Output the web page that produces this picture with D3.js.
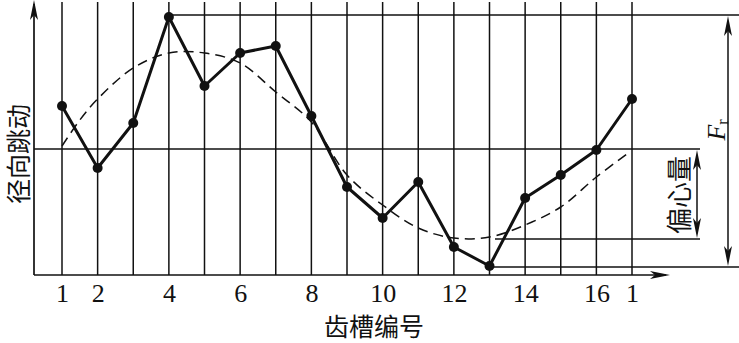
<!DOCTYPE html>
<html lang="zh">
<head>
  <meta charset="utf-8">
  <title>径向跳动</title>
  <script src="https://d3js.org/d3.v7.min.js"></script>
  <style>
    body { margin: 0; background: #fff; }
    svg { display: block; }
    .cjk { font-family: "Noto Sans CJK SC", sans-serif; }
    .num { font-family: "Liberation Serif", "DejaVu Serif", serif; }
  </style>
</head>
<body>
<div id="chart"></div>
<script>
  // tooth slot numbers (17 = back to slot 1)
  var teeth = [1, 2, 3, 4, 5, 6, 7, 8, 9, 10, 11, 12, 13, 14, 15, 16, 17];
  // measured radial runout at each slot
  var runout = [169, 107, 152, 258, 189, 222, 229, 159, 88, 57, 93, 28, 9, 77, 100, 125, 176];
  // fitted eccentricity curve (dashed), sampled
  var fitX = [1, 1.5, 2, 3, 4, 5, 6, 7, 8, 9, 10, 11, 12, 13, 14, 15, 16, 16.9];
  var fitY = [129, 155, 176, 207, 222, 222, 212, 183, 153, 100, 70, 47, 37, 38, 50, 68, 98, 122];
  var tickVals = [1, 2, 4, 6, 8, 10, 12, 14, 16, 17];
  var tickText = ["1", "2", "4", "6", "8", "10", "12", "14", "16", "1"];
  // reference levels
  var levelCenter = 126, levelMax = 260, levelMin = 8, levelFitMin = 36;

  var W = 739, H = 343;
  var svg = d3.select("#chart").append("svg").attr("width", W).attr("height", H);

  var x = d3.scaleLinear().domain([1, 17]).range([62, 632]);
  var y = d3.scaleLinear().domain([0, 260]).range([275, 15]);
  var x0 = 34, y0 = y(0);

  // arrow head helper: tip at (tx,ty), pointing along angle (degrees)
  function arrowHead(tx, ty, angle) {
    svg.append("path")
      .attr("d", "M0,0 L-20,-4 L-15,0 L-20,4 Z")
      .attr("fill", "#111")
      .attr("transform", "translate(" + tx + "," + ty + ") rotate(" + angle + ")");
  }
  function hline(x1, x2, yy, w) {
    svg.append("line").attr("x1", x1).attr("x2", x2).attr("y1", yy).attr("y2", yy)
      .attr("stroke", "#111").attr("stroke-width", w || 1.5);
  }
  function vline(xx, y1, y2, w) {
    svg.append("line").attr("x1", xx).attr("x2", xx).attr("y1", y1).attr("y2", y2)
      .attr("stroke", "#111").attr("stroke-width", w || 1.5);
  }

  // vertical slot lines
  teeth.forEach(function (t) { vline(x(t), 2, y0); });

  // reference horizontal lines
  hline(x0, 700, y(levelCenter));
  hline(x(4), 739, y(levelMax));
  hline(x(13), 739, y(levelMin));
  hline(495, 700, y(levelFitMin));

  // axes
  vline(x0, 4, y0, 1.7);
  arrowHead(x0, 0, -90);
  hline(x0, 666, y0, 1.7);
  arrowHead(670, y0, 0);

  // tick labels via d3 axis
  var xAxis = d3.axisBottom(x).tickValues(tickVals).tickSize(0)
    .tickFormat(function (d, i) { return tickText[i]; });
  var gx = svg.append("g").attr("transform", "translate(0," + y0 + ")").call(xAxis);
  gx.select(".domain").remove();
  gx.selectAll("text").attr("class", "num").attr("font-size", 26)
    .attr("fill", "#111").attr("dy", "0.95em").attr("y", 2);

  // dashed fitted curve
  var fitPts = fitX.map(function (d, i) { return [d, fitY[i]]; });
  svg.append("path")
    .attr("d", d3.line().x(function (d) { return x(d[0]); }).y(function (d) { return y(d[1]); })
      .curve(d3.curveCatmullRom)(fitPts))
    .attr("fill", "none").attr("stroke", "#111").attr("stroke-width", 1.5)
    .attr("stroke-dasharray", "10,6");

  // runout polyline
  var pts = teeth.map(function (t, i) { return [t, runout[i]]; });
  svg.append("path")
    .attr("d", d3.line().x(function (d) { return x(d[0]); }).y(function (d) { return y(d[1]); })(pts))
    .attr("fill", "none").attr("stroke", "#111").attr("stroke-width", 3)
    .attr("stroke-linejoin", "round");
  svg.selectAll("circle.pt").data(pts).enter().append("circle")
    .attr("class", "pt")
    .attr("cx", function (d) { return x(d[0]); })
    .attr("cy", function (d) { return y(d[1]); })
    .attr("r", 5).attr("fill", "#111");

  // Fr dimension arrow
  vline(728, y(levelMax) + 6, y(levelMin) - 6, 1.5);
  arrowHead(728, y(levelMax) + 1, -90);
  arrowHead(728, y(levelMin) - 1, 90);

  // eccentricity dimension arrow
  vline(697, y(levelCenter) + 6, y(levelFitMin) - 6, 1.5);
  arrowHead(697, y(levelCenter) + 1, -90);
  arrowHead(697, y(levelFitMin) - 1, 90);

  // labels
  svg.append("text").attr("class", "cjk").attr("font-size", 25).attr("fill", "#111")
    .attr("text-anchor", "middle").attr("dominant-baseline", "central")
    .attr("transform", "translate(17,154) rotate(-90)").text("径向跳动");
  svg.append("text").attr("class", "cjk").attr("font-size", 25).attr("fill", "#111")
    .attr("text-anchor", "middle").attr("dominant-baseline", "central")
    .attr("x", 374).attr("y", 325).text("齿槽编号");
  svg.append("text").attr("class", "cjk").attr("font-size", 26).attr("fill", "#111")
    .attr("text-anchor", "middle").attr("dominant-baseline", "central")
    .attr("transform", "translate(677,195) rotate(-90)").text("偏心量");
  var fr = svg.append("text").attr("class", "num").attr("font-size", 26).attr("fill", "#111")
    .attr("text-anchor", "middle").attr("dominant-baseline", "central")
    .attr("transform", "translate(716,130) rotate(-90)");
  fr.append("tspan").attr("font-style", "italic").text("F");
  fr.append("tspan").attr("font-size", 16).attr("dy", 6).text("r");
</script>
</body>
</html>
